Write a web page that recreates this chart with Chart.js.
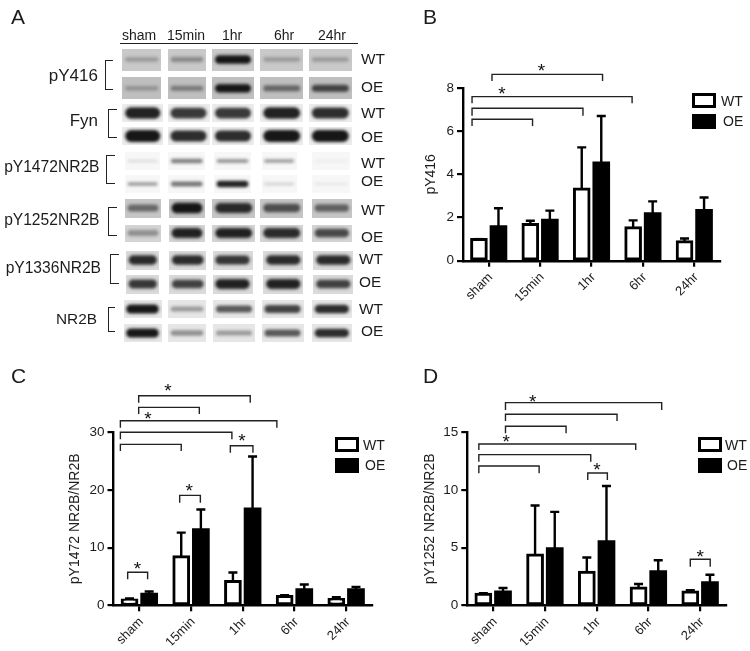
<!DOCTYPE html>
<html>
<head>
<meta charset="utf-8">
<title>pY416 / NR2B</title>
<script src="https://cdn.jsdelivr.net/npm/chart.js@4"></script>
<style>
    html, body { margin: 0; padding: 0; background: #fff; }
    #figure { position: relative; width: 750px; height: 651px; overflow: hidden; filter: blur(0.45px);
        font-family: "Liberation Sans", Arial, sans-serif; color: #1c1c1c; }
    #figure canvas { position: absolute; }
    .label { position: absolute; white-space: nowrap; line-height: 1; transform: translateY(-50%); }
    .swatch { position: absolute; box-sizing: border-box; border: 3px solid #000; }
    .bracket { position: absolute; box-sizing: border-box; border: 1.6px solid #222; border-right: 0; }
    .rule { position: absolute; background: #222; }
</style>
</head>
<body>
<div id="figure">
    <canvas id="blots"></canvas>
    <canvas id="chartB"></canvas>
    <canvas id="chartC"></canvas>
    <canvas id="chartD"></canvas>
</div>
<script>
// Bar data
const categories = ['sham', '15min', '1hr', '6hr', '24hr'];
const seriesNames = ['WT', 'OE'];

const wtB = [1, 1.7, 3.35, 1.55, 0.9];
const oeB = [1.6, 1.9, 4.55, 2.2, 2.35];
const wtTopB = [1, 1.85, 5.25, 1.87, 1.03];
const oeTopB = [2.43, 2.32, 6.7, 2.75, 2.93];
const ticksB = [0, 2, 4, 6, 8];

const wtC = [1, 8.5, 4.2, 1.6, 1.1];
const oeC = [2, 13.2, 16.8, 2.8, 2.8];
const wtTopC = [1.2, 12.6, 5.7, 1.75, 1.4];
const oeTopC = [2.4, 16.6, 25.8, 3.6, 3.2];
const ticksC = [0, 10, 20, 30];

const wtD = [1, 4.4, 2.9, 1.55, 1.2];
const oeD = [1.2, 4.95, 5.55, 2.95, 2];
const wtTopD = [1.05, 8.65, 4.15, 1.85, 1.3];
const oeTopD = [1.5, 8.1, 10.35, 3.9, 2.65];
const ticksD = [0, 5, 10, 15];

// Significance brackets: [from, to, top, dropLeft, dropRight, starX, starY]
// from/to/starX in category units (0 = sham), the rest in y axis units
const bracketsB = [
    [0.064, 2.215, 8.63, 8.32, 8.32, 1.027, 8.91],
    [-0.324, 2.79, 7.6, 7.29, 7.29, 0.258, 7.87],
    [-0.324, 1.834, 7.06, 6.72, 6.72],
    [-0.324, 0.853, 6.55, 6.24, 6.24]
];
const bracketsC = [
    [-0.013, 2.145, 36.35, 35.14, 35.14, 0.555, 37.6],
    [-0.013, 1.16, 34.33, 33.17, 33.17],
    [-0.367, 2.66, 32, 30.8, 30.8, 0.168, 32.8],
    [-0.367, 1.79, 30, 28.8, 28.8],
    [-0.367, 0.81, 27.9, 26.76, 26.76],
    [1.76, 2.197, 27.68, 26.47, 26.47, 1.985, 28.9],
    [0.78, 1.18, 19.07, 17.8, 17.8, 0.966, 20.3],
    [-0.226, 0.16, 5.72, 4.5, 4.5, -0.039, 6.7]
];
const bracketsD = [
    [0.238, 3.257, 17.57, 16.94, 16.94, 0.766, 17.89],
    [0.238, 2.394, 16.56, 15.98, 15.98],
    [0.238, 1.409, 15.52, 14.92, 14.92],
    [-0.277, 2.755, 13.99, 13.47, 13.47, 0.251, 14.42],
    [-0.277, 1.886, 13.06, 12.45, 12.45],
    [-0.277, 0.888, 12.08, 11.45, 11.45],
    [1.828, 2.207, 11.47, 10.87, 10.87, 2.008, 12],
    [3.81, 4.195, 3.99, 3.35, 3.35, 4.002, 4.45]
];

// Blot panel: band darkness (0-1), one row per WT/OE line, one column per time point
const blotDarkness = [
    [0.25, 0.35, 0.95, 0.25, 0.25],
    [0.25, 0.4, 0.95, 0.5, 0.7],
    [0.9, 0.8, 0.8, 0.9, 0.85],
    [0.95, 0.85, 0.85, 0.95, 0.95],
    [0.12, 0.5, 0.4, 0.35, 0.05],
    [0.35, 0.55, 0.9, 0.15, 0.08],
    [0.5, 0.95, 0.85, 0.65, 0.55],
    [0.35, 0.9, 0.9, 0.85, 0.7],
    [0.85, 0.85, 0.8, 0.85, 0.85],
    [0.8, 0.75, 0.9, 0.9, 0.75],
    [0.95, 0.35, 0.65, 0.75, 0.85],
    [0.95, 0.4, 0.35, 0.65, 0.85]
];
const blotRowY = [59.5, 88.3, 113, 136, 161, 184, 208, 233, 260, 284, 309, 333];
const blotLaneX = [
    [141.7, 187, 233, 281.7, 330.3],
    [142.7, 188.5, 233, 281.7, 330.3],
    [142.5, 186.7, 232.5, 279, 331],
    [143, 187, 233.7, 281.7, 331.8],
    [142.7, 187.7, 232.5, 283.3, 333.3],
    [142.5, 187, 234, 282.5, 331.8]
];
const blotLaneW = [
    [39, 38, 42, 43, 43],
    [41, 42, 42, 43, 43],
    [35, 37, 37, 35, 38],
    [36, 36, 43, 43, 40],
    [33, 37, 40, 40, 40],
    [38, 38, 42, 42, 40]
];
const blotRowH = [22, 22, 18, 18, 18, 18, 19, 17, 19, 19, 18, 18];
const blotBackground = ['#c9c9c9', '#bfbfbf', '#ececec', '#ececec', '#f7f7f7', '#f7f7f7',
    '#c6c6c6', '#d4d4d4', '#dadada', '#dadada', '#e6e6e6', '#e6e6e6'];
const blotBandScale = [0.9, 0.9, 1.25, 1.25, 0.7, 0.7, 1.1, 1.1, 1.05, 1.05, 0.95, 0.95];

const blotHeaders = [['sham', 139], ['15min', 186], ['1hr', 232], ['6hr', 284], ['24hr', 332]];
const blotNames = [
    ['pY416', 98, 75, 17], ['Fyn', 98, 120, 17], ['pY1472NR2B', 99.5, 167, 15.6],
    ['pY1252NR2B', 99.5, 220, 15.6], ['pY1336NR2B', 101, 268, 15.6], ['NR2B', 97, 319, 15.4]
];
const blotLineLabels = [
    ['WT', 361, 59], ['OE', 361, 87], ['WT', 361, 113], ['OE', 361, 137], ['WT', 361, 163], ['OE', 361, 181],
    ['WT', 361, 210], ['OE', 361, 237], ['WT', 359, 259], ['OE', 359, 282], ['WT', 359, 309], ['OE', 361, 331]
];
// [x, top, bottom, right]
const blotBrackets = [
    [105, 60, 90, 113], [108, 109, 138, 117], [106, 155, 184, 115],
    [108, 207, 236, 117], [110, 254, 284, 119], [108, 307, 332, 115]
];
const panelLetters = [['A', 11, 16], ['B', 423, 16], ['C', 11, 375], ['D', 423, 375]];

const figure = document.getElementById('figure');

function addLabel(text, x, y, size, anchor) {
    const el = document.createElement('div');
    el.className = 'label';
    el.textContent = text;
    el.style.top = y + 'px';
    el.style.fontSize = size + 'px';
    if (anchor === 'right') {
        el.style.right = (750 - x) + 'px';
    } else if (anchor === 'center') {
        el.style.left = x + 'px';
        el.style.transform = 'translate(-50%, -50%)';
    } else {
        el.style.left = x + 'px';
    }
    figure.appendChild(el);
}

function addLegend(x, firstY, textX) {
    seriesNames.forEach((name, i) => {
        const y = firstY + i * 20.5;
        const box = document.createElement('div');
        box.className = 'swatch';
        box.style.cssText = `left:${x}px;top:${y}px;width:24px;height:15px;background:${i ? '#000' : '#fff'}`;
        figure.appendChild(box);
        addLabel(name, textX + i * 2, y + 7.5, 14);
    });
}

/**
 * Draws the upper error bars and the significance brackets
 */
const annotations = {
    id: 'annotations',
    afterDatasetsDraw(chart, args, opts) {
        const { ctx, scales } = chart;
        const yScale = scales.y;
        ctx.save();
        ctx.strokeStyle = '#000';
        ctx.lineWidth = 2.4;
        chart.data.datasets.forEach((ds, d) => {
            chart.getDatasetMeta(d).data.forEach((bar, i) => {
                const top = yScale.getPixelForValue(ds.errorTop[i]);
                ctx.beginPath();
                ctx.moveTo(bar.x, bar.y);
                ctx.lineTo(bar.x, top);
                ctx.moveTo(bar.x - 4.5, top);
                ctx.lineTo(bar.x + 4.5, top);
                ctx.stroke();
            });
        });

        const step = scales.x.getPixelForValue(1) - scales.x.getPixelForValue(0);
        const toX = u => scales.x.getPixelForValue(0) + u * step;
        ctx.strokeStyle = '#222';
        ctx.lineWidth = 1.4;
        ctx.fillStyle = '#111';
        ctx.font = '19px "Liberation Sans"';
        ctx.textAlign = 'center';
        ctx.textBaseline = 'middle';
        opts.brackets.forEach(b => {
            const top = yScale.getPixelForValue(b[2]);
            ctx.beginPath();
            ctx.moveTo(toX(b[0]), yScale.getPixelForValue(b[3]));
            ctx.lineTo(toX(b[0]), top);
            ctx.lineTo(toX(b[1]), top);
            ctx.lineTo(toX(b[1]), yScale.getPixelForValue(b[4]));
            ctx.stroke();
            if (b[5] !== undefined) {
                ctx.fillText('*', toX(b[5]), yScale.getPixelForValue(b[6]) + 3.5);
            }
        });
        ctx.restore();
    }
};

/**
 * One bar panel. box is the canvas, plot is where the axes have to land.
 */
function drawBars(id, box, plot, yTitle, wt, oe, wtTop, oeTop, ticks, brackets) {
    const canvas = document.getElementById(id);
    canvas.width = box.w;
    canvas.height = box.h;
    canvas.style.left = box.x + 'px';
    canvas.style.top = box.y + 'px';

    const font = { family: '"Liberation Sans"', size: 13.5 };
    new Chart(canvas, {
        type: 'bar',
        data: {
            labels: categories,
            datasets: [
                { label: seriesNames[0], data: wt, errorTop: wtTop, backgroundColor: '#fff', borderColor: '#000', borderWidth: 3 },
                { label: seriesNames[1], data: oe, errorTop: oeTop, backgroundColor: '#000', borderWidth: 0 }
            ]
        },
        options: {
            responsive: false,
            animation: false,
            categoryPercentage: 0.76,
            barPercentage: 0.8,
            inflateAmount: 1,
            borderSkipped: false,
            layout: {
                padding: {
                    left: 0,
                    top: plot.top - box.y,
                    right: box.x + box.w - plot.right,
                    bottom: box.y + box.h - plot.bottom - 40
                }
            },
            plugins: {
                legend: { display: false },
                tooltip: { enabled: false },
                annotations: { brackets }
            },
            scales: {
                x: {
                    afterFit: s => { s.height = 40; },
                    border: { color: '#000', width: 2.4 },
                    grid: { offset: false, drawOnChartArea: false, color: '#000', lineWidth: 2.2, tickLength: 6 },
                    ticks: {
                        color: '#1c1c1c',
                        font: { family: font.family, size: 13 },
                        minRotation: 45,
                        maxRotation: 45,
                        padding: 3,
                        labelOffset: 2
                    }
                },
                y: {
                    min: ticks[0],
                    max: ticks[ticks.length - 1],
                    afterFit: s => { s.width = plot.left - box.x; },
                    afterBuildTicks: s => { s.ticks = ticks.map(value => ({ value })); },
                    border: { color: '#000', width: 2.4 },
                    grid: { drawOnChartArea: false, color: '#000', lineWidth: 2.2, tickLength: 6 },
                    ticks: { color: '#1c1c1c', font, padding: 3 },
                    title: {
                        display: true,
                        text: yTitle,
                        color: '#1c1c1c',
                        font: { family: font.family, size: 14 },
                        padding: { top: 3, bottom: 0 }
                    }
                }
            }
        },
        plugins: [annotations]
    });
}

/**
 * Builds one blot lane as a small canvas: a grey patch with a soft dark band
 */
function makeBlot(w, h, background, darkness, bandScale) {
    const c = document.createElement('canvas');
    c.width = Math.round(w);
    c.height = Math.round(h);
    const g = c.getContext('2d');
    g.fillStyle = background;
    g.fillRect(0, 0, c.width, c.height);
    const bandH = (3 + 7 * darkness) * bandScale;
    const bandW = c.width * 0.86;
    g.filter = 'blur(1.4px)';
    g.fillStyle = `rgba(12, 12, 12, ${darkness})`;
    g.beginPath();
    g.roundRect((c.width - bandW) / 2, (c.height - bandH) / 2, bandW, bandH, bandH / 2);
    g.fill();
    return c;
}

function drawBlots() {
    const canvas = document.getElementById('blots');
    canvas.width = 245;
    canvas.height = 305;
    canvas.style.left = '115px';
    canvas.style.top = '44px';

    const points = [];
    const images = [];
    blotDarkness.forEach((row, r) => {
        const group = Math.floor(r / 2);
        row.forEach((darkness, lane) => {
            points.push({ x: blotLaneX[group][lane], y: blotRowY[r] });
            images.push(makeBlot(blotLaneW[group][lane], blotRowH[r], blotBackground[r], darkness, blotBandScale[r]));
        });
    });

    new Chart(canvas, {
        type: 'scatter',
        data: { datasets: [{ data: points, pointStyle: images, pointRadius: 5, clip: false }] },
        options: {
            responsive: false,
            animation: false,
            layout: { autoPadding: false },
            plugins: { legend: { display: false }, tooltip: { enabled: false } },
            scales: {
                x: { display: false, min: 115, max: 360 },
                y: { display: false, min: 44, max: 349, reverse: true }
            }
        }
    });
}

function drawPanelA() {
    blotHeaders.forEach(h => addLabel(h[0], h[1], 35, 14, 'center'));
    const rule = document.createElement('div');
    rule.className = 'rule';
    rule.style.cssText = 'left:120px;top:43px;width:238px;height:1.4px';
    figure.appendChild(rule);
    blotNames.forEach(n => addLabel(n[0], n[1], n[2], n[3], 'right'));
    blotLineLabels.forEach(l => addLabel(l[0], l[1], l[2], 15.4));
    blotBrackets.forEach(b => {
        const el = document.createElement('div');
        el.className = 'bracket';
        el.style.cssText = `left:${b[0]}px;top:${b[1]}px;width:${b[3] - b[0]}px;height:${b[2] - b[1]}px`;
        figure.appendChild(el);
    });
}

panelLetters.forEach(p => addLabel(p[0], p[1], p[2], 21));
drawBlots();
drawPanelA();

drawBars('chartB', { x: 420, y: 30, w: 310, h: 280 }, { left: 463, right: 720, top: 88, bottom: 260.7 },
    'pY416', wtB, oeB, wtTopB, oeTopB, ticksB, bracketsB);
drawBars('chartC', { x: 64, y: 360, w: 320, h: 290 }, { left: 113.5, right: 372, top: 432.3, bottom: 605.3 },
    'pY1472 NR2B/NR2B', wtC, oeC, wtTopC, oeTopC, ticksC, bracketsC);
drawBars('chartD', { x: 419, y: 360, w: 320, h: 290 }, { left: 467.3, right: 726, top: 432.3, bottom: 605.3 },
    'pY1252 NR2B/NR2B', wtD, oeD, wtTopD, oeTopD, ticksD, bracketsD);

addLegend(692, 93, 721);
addLegend(335, 437, 363);
addLegend(698, 437, 725);
</script>
</body>
</html>
